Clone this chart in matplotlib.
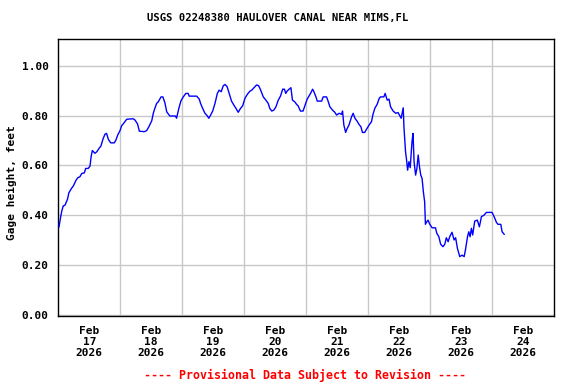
import matplotlib
matplotlib.use("Agg")
import matplotlib.pyplot as plt
import matplotlib.dates as mdates
import numpy as np

# hours since 2026-02-17 00:00 (EST) and gage height in feet
hours = [0.3, 0.7, 1.3, 1.9, 2.6, 3.6, 4.1, 5.2, 5.8, 6.9, 7.5, 8.4, 9.1, 10.1, 10.6,
         11.6, 12.3, 12.7, 13.2, 14.2, 14.9, 15.8, 16.5, 17.4, 18.1, 18.7, 19.4, 20.3,
         21.7, 22.3, 23.0, 23.9, 24.5, 25.5, 26.5, 29.0, 29.7, 30.7, 31.4, 33.3, 34.2,
         35.1, 36.2, 36.8, 37.4, 38.1, 38.7, 39.8, 40.5, 41.3, 42.0, 43.2, 45.4, 45.8,
         46.7, 47.5, 48.4, 49.4, 50.3, 50.7, 53.6, 54.6, 55.1, 55.9, 56.8, 57.7, 58.3,
         59.0, 59.8, 60.7, 61.6, 62.3, 63.1, 63.9, 64.6, 65.4, 66.2, 67.1, 68.0, 68.8,
         69.7, 70.6, 71.4, 72.3, 73.2, 74.2, 74.9, 75.8, 76.8, 77.6, 78.4, 79.4, 80.4,
         81.3, 81.9, 82.7, 83.5, 84.3, 85.2, 86.1, 86.9, 87.6, 88.1, 88.6, 89.4, 90.1,
         90.7, 91.6, 92.3, 92.9, 93.3, 93.8, 94.8, 95.5, 96.4, 97.7, 98.5, 99.0, 99.8,
         100.3, 102.0, 102.6, 103.9, 104.5, 105.2, 106.2, 107.1, 107.8, 108.8, 109.7,
         110.1, 110.6, 111.3, 111.9, 112.6, 113.6, 114.2, 114.9, 115.7, 116.5, 117.2,
         117.8, 118.7, 119.4, 120.4, 121.3, 121.9, 122.6, 123.5, 124.3, 124.8, 126.1,
         126.6, 127.4, 128.1, 128.7, 129.7, 130.7, 131.6, 132.3, 132.8, 133.6, 133.9,
         134.5, 134.9, 135.3, 135.8, 136.3, 137.0, 137.4, 137.8, 138.4, 138.9, 139.4,
         139.9, 140.4, 140.9, 141.4, 141.9, 142.2, 142.7, 143.2, 143.9, 144.8, 146.1,
         146.6, 147.4, 148.1, 149.0, 149.7, 150.3, 151.0, 151.6, 152.5, 153.3, 153.9,
         154.6, 155.5, 156.4, 157.2, 157.7, 158.5, 159.0, 159.5, 160.0, 160.5, 161.3,
         162.3, 163.1, 163.9, 164.9, 165.8, 168.0, 168.8, 169.7, 170.3, 171.4, 171.9,
         172.7]
gage = [0.353, 0.38, 0.414, 0.437, 0.44, 0.465, 0.49, 0.509, 0.517, 0.541, 0.55, 0.555,
        0.568, 0.57, 0.588, 0.588, 0.598, 0.635, 0.66, 0.649, 0.655, 0.669, 0.678, 0.709,
        0.726, 0.729, 0.705, 0.691, 0.691, 0.702, 0.722, 0.74, 0.759, 0.772, 0.786, 0.788,
        0.783, 0.767, 0.738, 0.736, 0.74, 0.756, 0.78, 0.81, 0.83, 0.85, 0.856, 0.876,
        0.876, 0.852, 0.816, 0.799, 0.799, 0.79, 0.83, 0.86, 0.876, 0.89, 0.89, 0.879,
        0.879, 0.867, 0.85, 0.83, 0.81, 0.80, 0.79, 0.803, 0.819, 0.85, 0.89, 0.903, 0.897,
        0.921, 0.926, 0.917, 0.89, 0.859, 0.843, 0.83, 0.814, 0.83, 0.84, 0.87, 0.886,
        0.899, 0.903, 0.913, 0.924, 0.921, 0.903, 0.876, 0.863, 0.85, 0.83, 0.819, 0.823,
        0.836, 0.863, 0.88, 0.907, 0.907, 0.89, 0.899, 0.907, 0.913, 0.863, 0.856, 0.846,
        0.84, 0.83, 0.819, 0.819, 0.84, 0.867, 0.89, 0.907, 0.897, 0.876, 0.859, 0.859,
        0.876, 0.876, 0.859, 0.836, 0.823, 0.814, 0.803, 0.81, 0.806, 0.819, 0.763, 0.733,
        0.749, 0.763, 0.796, 0.81, 0.79, 0.779, 0.765, 0.756, 0.733, 0.733, 0.746, 0.763,
        0.776, 0.806, 0.83, 0.846, 0.87, 0.876, 0.876, 0.89, 0.863, 0.867, 0.836, 0.819,
        0.81, 0.813, 0.80, 0.79, 0.832, 0.752, 0.655, 0.622, 0.581, 0.615, 0.591, 0.695,
        0.729, 0.615, 0.561, 0.588, 0.642, 0.595, 0.561, 0.548, 0.494, 0.454, 0.363, 0.373,
        0.38, 0.363, 0.349, 0.349, 0.327, 0.313, 0.283, 0.273, 0.283, 0.309, 0.293, 0.313,
        0.331, 0.30, 0.309, 0.266, 0.233, 0.239, 0.233, 0.26, 0.313, 0.333, 0.313, 0.347,
        0.32, 0.376, 0.38, 0.353, 0.394, 0.40, 0.411, 0.411, 0.394, 0.371, 0.363, 0.363,
        0.333, 0.323]

start = np.datetime64("2026-02-17T00:00")
days = np.arange(np.datetime64("2026-02-17"), np.datetime64("2026-02-26"))
yticks = [0.0, 0.2, 0.4, 0.6, 0.8, 1.0]

times = start + (np.array(hours) * 60).round().astype("timedelta64[m]")

mono = "DejaVu Sans Mono"
plt.rcParams["font.family"] = mono
plt.rcParams["font.weight"] = "bold"

fig = plt.figure(figsize=(5.76, 3.84), dpi=100)
ax = fig.add_axes([0.1012, 0.1771, 0.8606, 0.7213])

ax.plot(times, gage, color="#0000ff", lw=1.0, zorder=3)

ax.set_xlim(days[0], days[8])
ax.set_ylim(-0.006, 1.109)

# midnight gridlines, labels at noon
ax.set_xticks(days[1:8], minor=True)
noon = days[:8] + np.timedelta64(12, "h")
ax.set_xticks(noon)
ax.set_xticklabels([f"Feb\n{d.astype(object).day}\n2026" for d in days[:8]],
                   fontsize=8, fontweight="bold", linespacing=1.15)
ax.set_yticks(yticks)
ax.set_yticklabels([f"{v:.2f}" for v in yticks], fontsize=8, fontweight="bold")

ax.grid(True, which="minor", axis="x", color="#c8c8c8", lw=1.0)
ax.grid(True, which="major", axis="y", color="#c8c8c8", lw=1.0)
ax.tick_params(which="both", length=0)
ax.tick_params(axis="x", pad=7)
ax.tick_params(axis="y", pad=7)
for s in ax.spines.values():
    s.set_linewidth(1.0)

ax.set_ylabel("Gage height, feet", fontsize=8, fontweight="bold")
ax.yaxis.set_label_coords(-0.083, 0.48)
fig.text(0.482, 0.953, "USGS 02248380 HAULOVER CANAL NEAR MIMS,FL",
         ha="center", va="center", fontsize=7.6, fontweight="bold")
fig.text(0.53, 0.023, "---- Provisional Data Subject to Revision ----",
         ha="center", va="center", fontsize=8.4, fontweight="bold", color="red")

fig.savefig("out.png", dpi=100)
